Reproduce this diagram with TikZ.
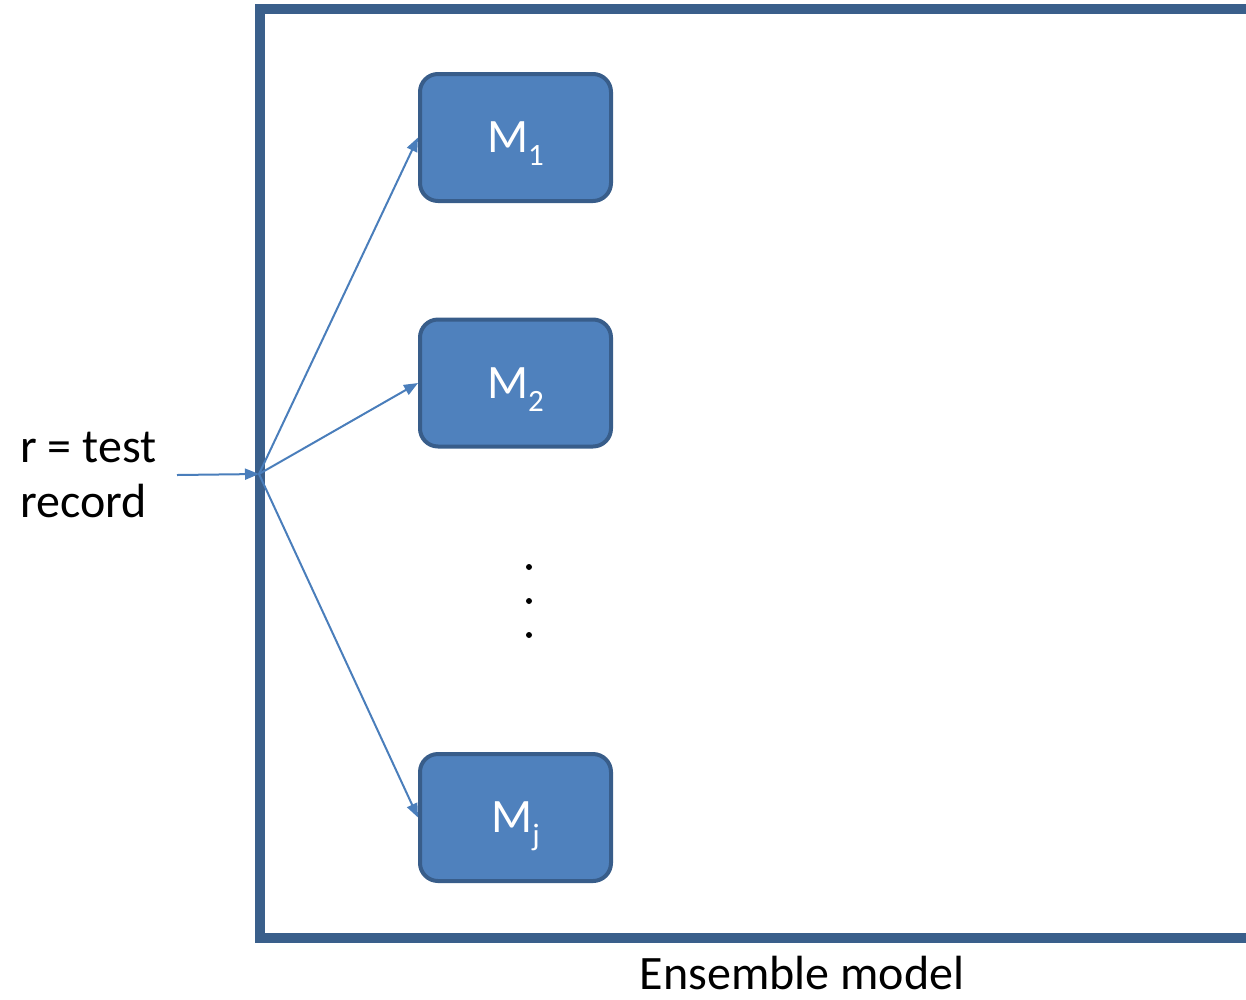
\documentclass[tikz,border=0pt]{standalone}
\usepackage{fontspec}
\setmainfont{Carlito}
\usetikzlibrary{arrows.meta}
\definecolor{frameblue}{HTML}{3A5F8B}
\definecolor{boxfill}{HTML}{4F81BD}
\definecolor{boxline}{HTML}{385D8A}
\definecolor{arrowblue}{HTML}{4A7EBB}
\tikzset{
  model/.style={draw=boxline, fill=boxfill, line width=4pt, rounded corners=18pt,
    minimum width=191pt, minimum height=127pt, inner sep=0pt, text=white,
    font=\fontsize{48}{48}\selectfont},
  conn/.style={draw=arrowblue, line width=2pt, -{Triangle[length=14pt,width=11pt]}},
  dotmark/.style={circle, fill=black, inner sep=0pt, minimum size=6pt},
  lbl/.style={font=\fontsize{48}{55}\selectfont, inner sep=0pt}
}
\newcommand{\subtxt}[1]{\smash{\raisebox{-0.27em}{\fontsize{31}{31}\selectfont #1}}}
\begin{document}
\begin{tikzpicture}[x=1pt,y=-1pt]
\useasboundingbox (0,0) rectangle (1246,999);
\clip (0,0) rectangle (1246,999);
\draw[frameblue, line width=10pt] (260,9) rectangle (1300,938);
\node[model] (m1) at (515.5,137.5) {M\subtxt{1}};
\node[model] (m2) at (515.5,383) {M\subtxt{2}};
\node[model] (mj) at (515.5,817.5) {M\subtxt{j}};
\coordinate (hub) at (259,474);
\coordinate (in) at (177,475);
\draw[conn] (in) -- (hub);
\draw[conn] (hub) -- (m1.west);
\draw[conn] (hub) -- (m2.west);
\draw[conn] (hub) -- (mj.west);
\node[dotmark] (d1) at (529,567) {};
\node[dotmark] (d2) at (529,601) {};
\node[dotmark] (d3) at (529,635) {};
\node[lbl, anchor=base west] (r1) at (20,462) {r = test};
\node[lbl, anchor=base west] (r2) at (20,517) {record};
\node[lbl, anchor=base, text depth=0pt] (ens) at (802,989) {Ensemble model};
\end{tikzpicture}
\end{document}
